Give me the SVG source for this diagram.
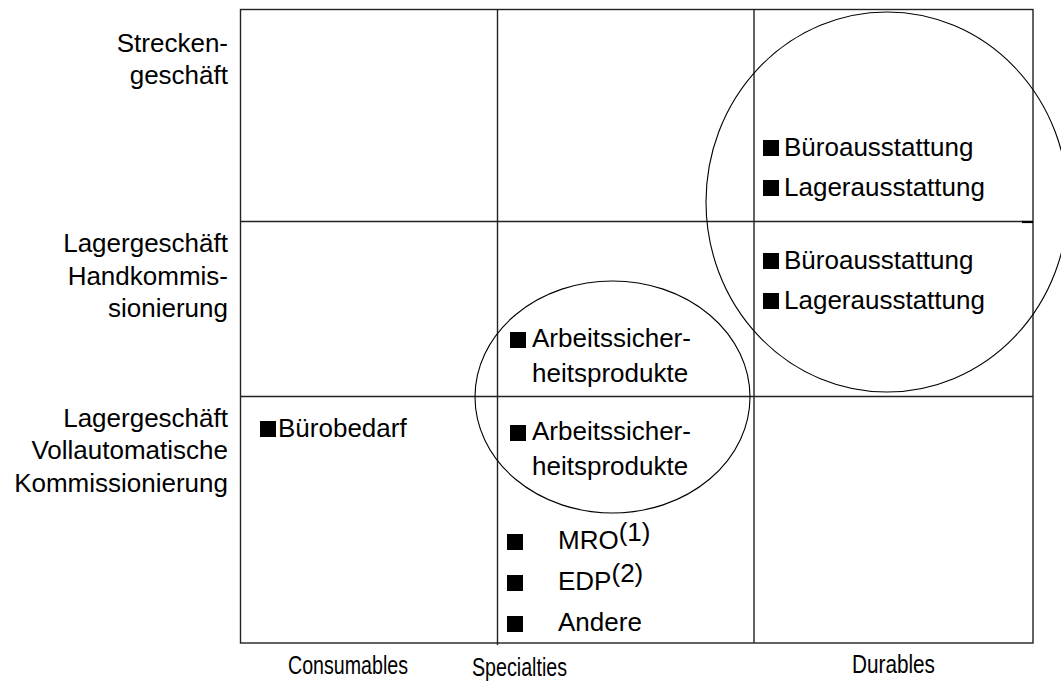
<svg xmlns="http://www.w3.org/2000/svg" width="1061" height="681" viewBox="0 0 1061 681">
  <style>
    text { font-family: "Liberation Sans", Arial, sans-serif; font-size: 26px; fill: #000; }
    .row { text-anchor: end; }
    .axis { font-size: 26px; }
    .grid { fill: none; stroke: #222; stroke-width: 1.4; }
    .ring { fill: none; stroke: #000; stroke-width: 1.1; }
    .bullet { fill: #000; }
  </style>
  <defs>
    <rect id="sq" width="16" height="16" class="bullet"/>
  </defs>

  <rect width="1061" height="681" fill="#fff"/>

  <!-- matrix grid -->
  <g id="grid">
    <rect class="grid" x="240.5" y="9.5" width="792.5" height="633.5"/>
    <line class="grid" x1="497.5" y1="9.5" x2="497.5" y2="645"/>
    <line class="grid" x1="754" y1="9.5" x2="754" y2="643"/>
    <line class="grid" x1="240.5" y1="221.5" x2="1033" y2="221.5"/>
    <line class="grid" x1="240.5" y1="396.5" x2="1033" y2="396.5"/>
    <line x1="1022" y1="222" x2="1033" y2="222" stroke="#000" stroke-width="2.2"/>
  </g>

  <!-- row labels -->
  <g id="row-strecke">
    <text class="row" x="228" y="52">Strecken-</text>
    <text class="row" x="228" y="84">geschäft</text>
  </g>
  <g id="row-hand">
    <text class="row" x="228" y="252">Lagergeschäft</text>
    <text class="row" x="228" y="285">Handkommis-</text>
    <text class="row" x="228" y="317">sionierung</text>
  </g>
  <g id="row-auto">
    <text class="row" x="228" y="427">Lagergeschäft</text>
    <text class="row" x="228" y="459">Vollautomatische</text>
    <text class="row" x="228" y="492">Kommissionierung</text>
  </g>

  <!-- column labels -->
  <g id="col-consumables"><text class="axis" x="288" y="674" textLength="120" lengthAdjust="spacingAndGlyphs">Consumables</text></g>
  <g id="col-specialties"><text class="axis" x="472" y="676" textLength="95" lengthAdjust="spacingAndGlyphs">Specialties</text></g>
  <g id="col-durables"><text class="axis" x="852" y="673" textLength="83" lengthAdjust="spacingAndGlyphs">Durables</text></g>

  <!-- cell entries -->
  <g id="durables-strecke">
    <use href="#sq" x="763" y="140"/>
    <text x="784" y="156">Büroausstattung</text>
    <use href="#sq" x="763" y="180"/>
    <text x="784" y="196">Lagerausstattung</text>
  </g>
  <g id="durables-hand">
    <use href="#sq" x="763" y="253"/>
    <text x="784" y="269">Büroausstattung</text>
    <use href="#sq" x="763" y="293"/>
    <text x="784" y="309">Lagerausstattung</text>
  </g>
  <g id="specialties-hand">
    <use href="#sq" x="510" y="332"/>
    <text x="532" y="347">Arbeitssicher-</text>
    <text x="532" y="382">heitsprodukte</text>
  </g>
  <g id="specialties-auto">
    <use href="#sq" x="510" y="425"/>
    <text x="532" y="440">Arbeitssicher-</text>
    <text x="532" y="475">heitsprodukte</text>
  </g>
  <g id="consumables-auto">
    <use href="#sq" x="260" y="421"/>
    <text x="278" y="437">Bürobedarf</text>
  </g>
  <g id="specialties-other">
    <use href="#sq" x="507" y="534"/>
    <text x="558" y="549">MRO<tspan dy="-8">(1)</tspan></text>
    <use href="#sq" x="507" y="575"/>
    <text x="558" y="590">EDP<tspan dy="-8">(2)</tspan></text>
    <use href="#sq" x="507" y="616"/>
    <text x="558" y="631">Andere</text>
  </g>

  <!-- groupings -->
  <g id="connectors">
    <ellipse id="ring-durables" class="ring" cx="887" cy="202" rx="181" ry="190"/>
    <ellipse id="ring-safety" class="ring" cx="612.5" cy="397" rx="137.5" ry="116"/>
  </g>
</svg>
